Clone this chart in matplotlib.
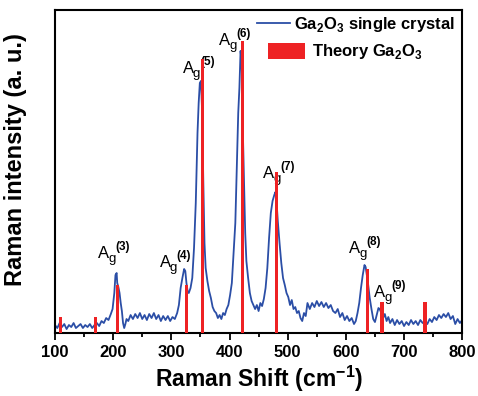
import matplotlib
matplotlib.use('Agg')
import matplotlib.pyplot as plt

plt.rcParams['font.family'] = ['Liberation Sans', 'DejaVu Sans']
plt.rcParams['mathtext.fontset'] = 'custom'
plt.rcParams['mathtext.rm'] = 'Liberation Sans'
plt.rcParams['mathtext.bf'] = 'Liberation Sans:bold'

# measured spectrum (Raman shift, intensity in a.u.)
shift = [100, 104, 108, 112, 116, 120, 124, 128, 132, 136, 140, 144, 148, 152, 156, 160,
         164, 168, 172, 176, 180, 184, 188, 192, 196, 199, 202, 204, 206, 207, 209, 211,
         213, 215, 217, 219, 221, 223, 226, 230, 234, 238, 242, 246, 250, 254, 258, 262,
         266, 270, 274, 278, 282, 286, 290, 294, 298, 302, 306, 310, 313, 316, 319, 322,
         324, 326, 328, 330, 333, 336, 339, 342, 345, 347, 349, 351, 353, 355, 357, 359,
         362, 365, 368, 371, 374, 377, 380, 383, 386, 389, 392, 395, 398, 401, 404, 407,
         410, 413, 415, 417, 419, 421, 423, 425, 427, 429, 432, 435, 438, 441, 444, 447,
         450, 453, 456, 459, 462, 465, 468, 471, 474, 477, 479, 481, 483, 486, 489, 492,
         495, 498, 501, 504, 507, 510, 513, 516, 519, 522, 525, 528, 531, 534, 538, 542,
         546, 550, 554, 558, 562, 566, 570, 574, 578, 582, 586, 590, 594, 598, 602, 606,
         610, 614, 617, 620, 623, 626, 629, 632, 634, 636, 638, 641, 644, 647, 650, 653,
         656, 658, 661, 664, 667, 670, 673, 676, 680, 684, 688, 692, 696, 700, 704, 708,
         712, 716, 720, 724, 728, 732, 736, 740, 744, 748, 752, 756, 760, 764, 768, 772,
         776, 780, 784, 788, 792, 796, 800]
intensity = [8, 5, 10, 6, 9, 4, 8, 6, 10, 5, 7, 9, 5, 8, 6, 9,
             5, 8, 10, 7, 12, 10, 15, 13, 19, 24, 40, 58, 60, 50, 46, 40,
             30, 22, 10, 5, 9, 14, 12, 18, 14, 19, 15, 20, 14, 18, 13, 19,
             15, 20, 14, 18, 12, 17, 13, 17, 12, 16, 14, 20, 28, 45, 55, 64,
             62, 50, 42, 40, 45, 55, 85, 130, 200, 230, 250, 252, 220, 150, 90, 65,
             52, 42, 35, 26, 22, 20, 15, 18, 14, 20, 18, 24, 28, 38, 50, 80,
             110, 175, 220, 245, 282, 270, 200, 150, 100, 72, 55, 40, 32, 28, 24, 28,
             22, 30, 27, 34, 45, 65, 95, 120, 132, 138, 141, 130, 112, 90, 70, 55,
             48, 40, 36, 28, 33, 24, 26, 20, 22, 15, 12, 20, 17, 30, 24, 30,
             26, 32, 27, 31, 26, 30, 25, 28, 22, 20, 24, 16, 20, 13, 17, 12,
             15, 9, 12, 20, 30, 45, 58, 68, 66, 58, 50, 35, 24, 14, 11, 18,
             25, 24, 20, 15, 19, 12, 16, 10, 14, 8, 13, 9, 12, 7, 11, 8,
             13, 9, 12, 8, 13, 10, 12, 9, 14, 11, 16, 13, 18, 15, 19, 16,
             20, 14, 17, 9, 14, 10, 13]

# theoretical modes
theory_pos = [110, 169, 208, 326, 354, 422, 481, 637, 662, 736]
theory_int = [16, 16, 48, 48, 274, 292, 161, 64, 31, 31]

# mode labels (position of the "A" baseline)
mode_names = ['3', '4', '5', '6', '7', '8', '9']
mode_x = [174, 280, 320, 382, 458, 606, 649]
mode_y = [75, 66, 260, 288, 155, 80, 36]

fig = plt.figure(figsize=(4.78, 3.96), dpi=100)
ax = fig.add_axes([0.115, 0.159, 0.852, 0.816])

line, = ax.plot(shift, intensity, color='#2b4ea6', lw=1.3, zorder=2)
bars = ax.bar(theory_pos, theory_int, width=5.5, color='#ee2224', zorder=3)

for n, x, y in zip(mode_names, mode_x, mode_y):
    ax.text(x, y, 'A', fontsize=12, ha='left', va='baseline', zorder=1)
    ax.annotate('g', (x, y), xytext=(10, -4), textcoords='offset pixels',
                fontsize=9.5, ha='left', va='baseline', zorder=1)
    ax.annotate('(' + n + ')', (x, y), xytext=(17, 8), textcoords='offset pixels',
                fontsize=8.5, fontweight='bold', ha='left', va='baseline', zorder=1)

ax.set_xlim(100, 800)
ax.set_ylim(0, 323)
ax.set_xticks(range(100, 801, 100))
ax.set_xticks(range(150, 800, 100), minor=True)
ax.set_yticks([])
ax.tick_params(axis='x', which='major', length=5, width=1.3, labelsize=12)
ax.tick_params(axis='x', which='minor', length=3, width=1.3)
for lab in ax.get_xticklabels():
    lab.set_fontweight('bold')
for s in ax.spines.values():
    s.set_linewidth(1.5)

ax.set_xlabel('Raman Shift (cm$^{\\mathbf{-1}}$)', fontsize=16.5, fontweight='bold', labelpad=3)
ax.set_ylabel('Raman intensity (a. u.)', fontsize=17, fontweight='bold')
ax.yaxis.set_label_coords(-0.069, 0.536)

leg1 = ax.legend([line], ['Ga$_\\mathbf{2}$O$_\\mathbf{3}$ single crystal'],
                 loc='center left', bbox_to_anchor=(0.496, 0.954), frameon=False,
                 prop={'weight': 'bold', 'size': 12}, handlelength=2.0,
                 handletextpad=0.2, borderpad=0, borderaxespad=0)
ax.add_artist(leg1)
ax.legend([bars], ['Theory Ga$_\\mathbf{2}$O$_\\mathbf{3}$'],
          loc='center left', bbox_to_anchor=(0.523, 0.870), frameon=False,
          prop={'weight': 'bold', 'size': 12}, handlelength=2.2, handleheight=1.1,
          handletextpad=0.45, borderpad=0, borderaxespad=0)

fig.savefig('out.png', dpi=100)
